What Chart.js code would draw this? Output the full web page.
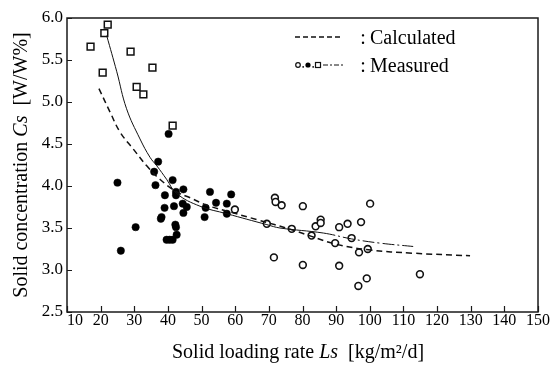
<!DOCTYPE html>
<html>
<head>
<meta charset="utf-8">
<script src="https://cdn.jsdelivr.net/npm/chart.js@4.4.1/dist/chart.umd.min.js"></script>
<style>
html,body{margin:0;padding:0;background:#fff;}
canvas{display:block;}
</style>
</head>
<body>
<canvas id="c" width="553" height="365"></canvas>
<script>
// ---- axis settings ----
const xMin = 10, xMax = 150, xStep = 10;
const yMin = 2.5, yMax = 6.0, yStep = 0.5;

// ---- measured data: open squares ----
const squaresX = [17.0, 21.1, 22.1, 20.6, 28.9, 35.4, 30.7, 32.7, 41.4];
const squaresY = [5.66, 5.82, 5.92, 5.35, 5.60, 5.41, 5.18, 5.09, 4.72];

// ---- measured data: filled circles ----
const filledX = [40.2, 37.1, 35.9, 25.0, 26.0, 30.4, 36.3, 39.1, 39.0, 38.1, 37.9, 41.4, 42.4, 42.4, 41.8, 42.2,
                 42.4, 42.6, 39.6, 40.5, 41.4, 44.6, 44.4, 45.6, 44.6, 52.5, 50.9, 51.2, 54.3, 58.8, 57.5, 57.5];
const filledY = [4.62, 4.29, 4.17, 4.04, 3.23, 3.51, 4.01, 3.89, 3.74, 3.63, 3.61, 4.07, 3.93, 3.89, 3.76, 3.54,
                 3.51, 3.42, 3.36, 3.36, 3.36, 3.96, 3.79, 3.75, 3.68, 3.93, 3.63, 3.74, 3.80, 3.90, 3.79, 3.67];

// ---- measured data: open circles ----
const openX = [59.9, 69.4, 71.5, 71.8, 72.0, 73.8, 80.1, 80.1, 76.8, 82.7, 83.9, 85.4, 85.4, 89.7, 90.9, 90.9,
               93.4, 94.6, 97.4, 96.8, 99.4, 100.1, 96.6, 99.1, 114.9];
const openY = [3.72, 3.55, 3.15, 3.86, 3.81, 3.77, 3.76, 3.06, 3.49, 3.41, 3.52, 3.60, 3.56, 3.32, 3.51, 3.05,
               3.55, 3.38, 3.57, 3.21, 3.25, 3.79, 2.81, 2.90, 2.95];

// ---- calculated curve (dashed) ----
const calcX = [19.5, 22.8, 25.8, 29.7, 33.7, 37.6, 42.6, 46.6, 51.6, 59.4, 66.4, 76.8, 82.7, 89.7, 99.6, 112.9, 129.8];
const calcY = [5.16, 4.88, 4.64, 4.44, 4.24, 4.08, 3.93, 3.86, 3.77, 3.68, 3.60, 3.48, 3.40, 3.31, 3.24, 3.20, 3.17];

// ---- measured trend curve (thin) ----
const fitX = [21.8, 24.8, 27.7, 31.7, 34.7, 36.7, 39.6, 42.6, 49.5, 57.5, 69.4, 73.3, 86.2, 94.6, 103.0, 112.9];
const fitY = [5.79, 5.36, 4.92, 4.56, 4.34, 4.24, 4.08, 3.91, 3.76, 3.67, 3.54, 3.50, 3.44, 3.37, 3.32, 3.28];

const pts = (xs, ys) => xs.map((x, i) => ({x: x, y: ys[i]}));
const SERIF = '"Liberation Serif", "DejaVu Serif", serif';

const decor = {
  id: 'decor',
  afterDraw(chart) {
    const ctx = chart.ctx;
    const a = chart.chartArea;
    const xs = chart.scales.x, ys = chart.scales.y;
    ctx.save();
    // frame
    ctx.strokeStyle = '#1a1a1a';
    ctx.lineWidth = 1.5;
    ctx.strokeRect(a.left, a.top, a.right - a.left, a.bottom - a.top);
    // inward ticks
    ctx.lineWidth = 1.2;
    ctx.beginPath();
    xs.ticks.forEach(t => {
      const p = Math.round(xs.getPixelForValue(t.value)) + 0.5;
      ctx.moveTo(p, a.bottom); ctx.lineTo(p, a.bottom - 6);
    });
    ys.ticks.forEach(t => {
      const p = Math.round(ys.getPixelForValue(t.value)) + 0.5;
      ctx.moveTo(a.left, p); ctx.lineTo(a.left + 5, p);
    });
    ctx.stroke();

    function measureParts(parts, size) {
      let w = 0;
      parts.forEach(p => { ctx.font = (p.i ? 'italic ' : '') + size + 'px ' + SERIF; p.w = ctx.measureText(p.t).width; w += p.w; });
      return w;
    }
    function renderParts(parts, size, x0, y0) {
      let x = x0;
      parts.forEach(p => { ctx.font = (p.i ? 'italic ' : '') + size + 'px ' + SERIF; ctx.fillText(p.t, x, y0); x += p.w; });
    }
    ctx.fillStyle = '#000';
    ctx.textBaseline = 'alphabetic';
    ctx.textAlign = 'left';
    // x title
    const xt = [{t: 'Solid loading rate '}, {t: 'Ls', i: true}, {t: '  [kg/m\u00B2/d]'}];
    const wx = measureParts(xt, 20);
    renderParts(xt, 20, 298 - wx / 2, 358);
    // y title
    const yt = [{t: 'Solid concentration '}, {t: 'Cs', i: true}, {t: '  [W/W%]'}];
    const wy = measureParts(yt, 20);
    ctx.save();
    ctx.translate(27, 165);
    ctx.rotate(-Math.PI / 2);
    renderParts(yt, 20, -wy / 2, 0);
    ctx.restore();

    // legend
    ctx.strokeStyle = '#111';
    ctx.lineWidth = 1.4;
    ctx.setLineDash([5, 3]);
    ctx.beginPath(); ctx.moveTo(295, 37); ctx.lineTo(343, 37); ctx.stroke();
    ctx.setLineDash([5, 2, 2, 2]);
    ctx.lineWidth = 1;
    ctx.beginPath(); ctx.moveTo(323, 65); ctx.lineTo(343, 65); ctx.stroke();
    ctx.setLineDash([]);
    ctx.lineWidth = 1.2;
    ctx.beginPath(); ctx.arc(298, 65, 2.3, 0, Math.PI * 2); ctx.stroke();
    ctx.beginPath(); ctx.arc(308, 65, 2.6, 0, Math.PI * 2); ctx.fill();
    ctx.strokeRect(315.5, 62.5, 5, 5);
    ctx.fillRect(302.5, 66, 1.3, 1.8);
    ctx.fillRect(312.5, 66, 1.3, 1.8);
    ctx.font = '20px ' + SERIF;
    ctx.textAlign = 'center';
    ctx.fillText(':', 363, 44);
    ctx.fillText(':', 363, 72);
    ctx.textAlign = 'left';
    ctx.fillText('Calculated', 370, 44);
    ctx.fillText('Measured', 370, 72);
    ctx.restore();
  }
};

new Chart(document.getElementById('c'), {
  type: 'scatter',
  data: {
    datasets: [
      {
        label: 'Calculated', type: 'line', data: pts(calcX, calcY),
        borderColor: '#111', borderWidth: 1.5, borderDash: [6, 4],
        pointRadius: 0, fill: false, tension: 0.4
      },
      {
        label: 'Measured trend', type: 'line', data: pts(fitX, fitY),
        borderColor: '#111', borderWidth: 1, pointRadius: 0, fill: false,
        tension: 0.4,
        segment: { borderDash: c => (c.p0.parsed.x >= 86 ? [12, 3, 2, 3] : []) }
      },
      {
        label: 'Squares', data: pts(squaresX, squaresY), pointStyle: 'rect',
        pointRadius: 4.8, borderColor: '#111', backgroundColor: '#fff', borderWidth: 1.5
      },
      {
        label: 'Filled', data: pts(filledX, filledY), pointStyle: 'circle',
        pointRadius: 3.7, borderColor: '#000', backgroundColor: '#000', borderWidth: 0.5
      },
      {
        label: 'Open', data: pts(openX, openY), pointStyle: 'circle',
        pointRadius: 3.4, borderColor: '#111', backgroundColor: '#fff', borderWidth: 1.6
      }
    ]
  },
  options: {
    responsive: false, animation: false, devicePixelRatio: 1,
    layout: { padding: { top: 18, right: 15, left: 0, bottom: 0 } },
    plugins: { legend: { display: false }, tooltip: { enabled: false } },
    scales: {
      x: {
        type: 'linear', min: xMin, max: xMax,
        ticks: { stepSize: xStep, autoSkip: false, maxRotation: 0, padding: -1,
                 color: '#000', font: { family: SERIF, size: 16 },
                 callback: v => (v === xMin ? '\u2002\u2002' + v : String(v)) },
        grid: { drawOnChartArea: false, drawTicks: false },
        border: { display: false },
        afterFit: s => { s.height = 53; }
      },
      y: {
        type: 'linear', min: yMin, max: yMax,
        ticks: { stepSize: yStep, padding: 4, color: '#000', font: { family: SERIF, size: 17 },
                 callback: v => Number(v).toFixed(1) },
        grid: { drawOnChartArea: false, drawTicks: false },
        border: { display: false },
        afterFit: s => { s.width = 67; }
      }
    }
  },
  plugins: [decor]
});
</script>
</body>
</html>
